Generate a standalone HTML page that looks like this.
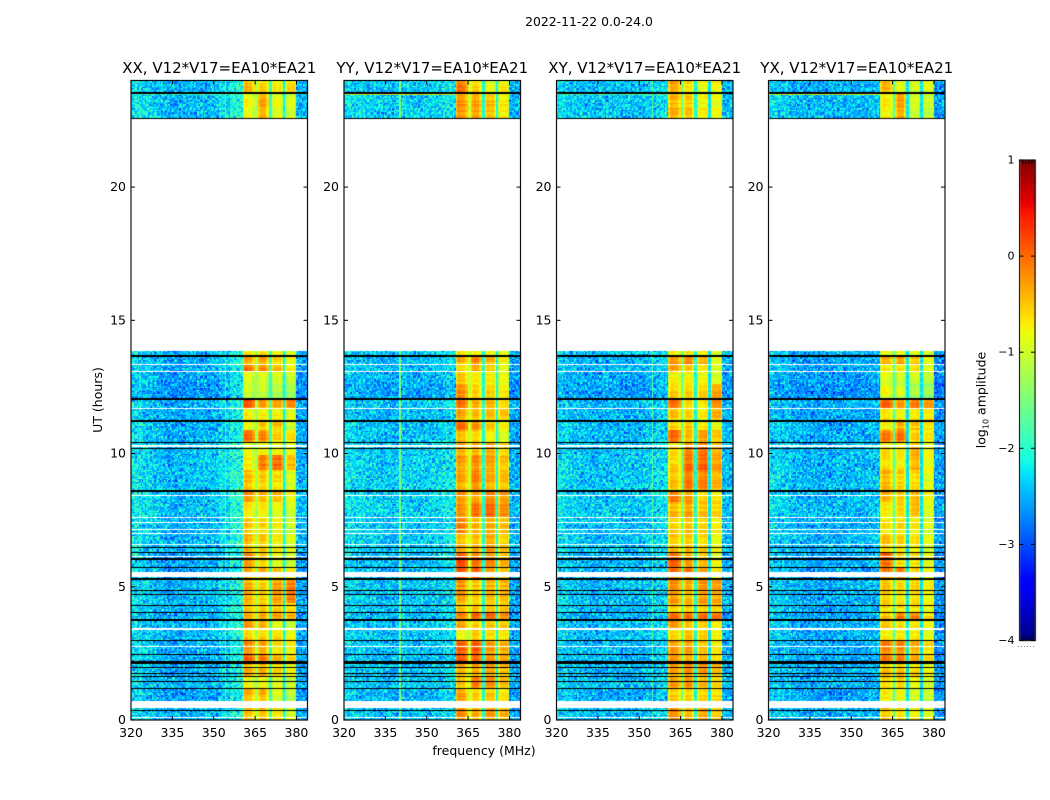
<!DOCTYPE html>
<html lang="en">
<head>
<meta charset="utf-8">
<title>2022-11-22 0.0-24.0 dynamic spectra</title>
<style>
html,body{margin:0;padding:0;background:#fff;}
#figure{position:relative;width:1050px;height:800px;overflow:hidden;background:#fff;font-family:"DejaVu Sans","Liberation Sans",sans-serif;}
canvas{position:absolute;left:0;top:0;}
svg{position:absolute;left:0;top:0;}
text{font-family:"DejaVu Sans","Liberation Sans",sans-serif;fill:#000;}
</style>
</head>
<body>
<div id="figure">
<canvas id="heat" width="1050" height="800"></canvas>
<svg id="axes" width="1050" height="800" viewBox="0 0 1050 800">
  <text x="589" y="26" font-size="12.4" text-anchor="middle">2022-11-22 0.0-24.0</text>
  <text x="484" y="755" font-size="12.5" text-anchor="middle">frequency (MHz)</text>
  <text transform="translate(102,400) rotate(-90)" font-size="12.5" text-anchor="middle">UT (hours)</text>
  <text transform="translate(985.5,400) rotate(-90)" font-size="12.5" text-anchor="middle">log<tspan font-size="8" dy="3">10</tspan><tspan dy="-3"> amplitude</tspan></text>
</svg>
</div>
<script>
/* Axis data */
var xTickValues = [320, 335, 350, 365, 380];
var yTickValues = [0, 5, 10, 15, 20];
var colorTickValues = [1, 0, -1, -2, -3, -4];
var colorTickLabels = ['1', '0', '\u22121', '\u22122', '\u22123', '\u22124'];
var panelTitles = ['XX, V12*V17=EA10*EA21', 'YY, V12*V17=EA10*EA21', 'XY, V12*V17=EA10*EA21', 'YX, V12*V17=EA10*EA21'];
var panelKeys = ['xx', 'yy', 'xy', 'yx'];

/* Lower hour bound of each observing block, top of the plot downward */
var blockEnds = [23.5,22.55,13.66,13.34,13.07,12.6,12.04,11.69,11.22,10.9,10.41,9.95,9.4,8.59,8.2,7.59,7.0,6.3,5.73,5.29,4.38,4.02,3.75,3.42,3.0,2.46,2.16,1.62,1.19,0.72,0];

/* log10 amplitude for the four receiver sub-bands, one row per block */
var xxBands = [[-.45,-.55,-.7,-.6],[-.8,-.35,-.85,-.95],[-.7,-.6,-.75,-.9],[-.35,-.3,-.55,-.8],[-.1,-.2,-.45,-.75],[-.85,-.85,-.9,-1],[-1,-1,-1.15,-1.25],[.05,-.3,-.35,-.2],[-.7,-.7,-.7,-.85],[-.8,-.5,-.45,-1],[-.05,-.15,-.55,-.65],[-.85,-.75,-.75,-.85],[-.7,-.1,0,-.45],[-.45,-.5,-.6,-.9],[-.2,-.35,-.4,-.75],[-.7,-.7,-.85,-1],[-.5,-.55,-.7,-1],[-.45,-.5,-.7,-.9],[-.2,-.5,-.8,-.95],[-.4,-.4,-.55,-.75],[-.35,-.5,-.25,-.1],[-.5,-.5,-.5,-.65],[-.3,-.25,-.2,-.3],[-.3,-.4,-.9,-1.1],[-.55,-.55,-.6,-.8],[-.2,-.3,-.6,-.7],[0,-.1,-.4,-.6],[-.4,-.4,-.6,-.8],[-.75,-.75,-.85,-1],[-.4,-.4,-.9,-1.1],[-.4,-.4,-.6,-.9]];
var yyBands = [[-.1,-.55,-.85,-.7],[-.25,-.3,-.45,-.7],[-.6,-.65,-.7,-.8],[-.4,-.15,-.4,-.75],[-.55,-.25,-.45,-.75],[-.5,-.7,-.7,-.8],[-.2,-.55,-.55,-.7],[.05,-.25,-.3,-.5],[-.35,-.45,-.45,-.5],[-.05,-.25,-.55,-.75],[-.4,-.55,-.7,-.85],[-.35,-.35,-.3,-.55],[-.3,-.2,-.3,-.5],[-.35,-.15,-.35,-.45],[-.2,-.25,-.1,-.2],[-.25,-.05,0,-.2],[-.15,-.4,-.35,-.45],[-.4,-.4,-.3,-.5],[.1,-.1,-.2,-.4],[.15,.1,-.25,-.45],[-.25,-.5,-.4,-.4],[-.5,-.5,-.5,-.5],[-.15,.05,.05,-.2],[-.35,-.55,-.5,-.55],[-.75,-.45,-.55,-.6],[.05,.1,-.25,-.35],[.1,.05,-.2,-.3],[-.35,-.3,-.25,-.4],[-.5,-.1,-.2,-.45],[-.35,-.6,-.55,-.7],[-.2,-.35,-.25,-.4]];
var xyBands = [[-.3,-.6,-.8,-.7],[-.4,-.5,-.75,-.8],[-.75,-.7,-.8,-1],[-.2,-.1,-.35,-.8],[-.3,-.5,-.7,-.95],[-.75,-.75,-.8,-.95],[-.55,-.55,-.55,-.3],[0,-.55,-.65,-.15],[-.5,-.6,-.75,-.4],[-.5,-.45,-.65,-.8],[0,-.45,-.3,-.5],[-.6,-.15,-.05,-.4],[-.55,0,.05,-.25],[-.5,-.1,-.15,-.4],[-.1,-.25,-.6,-.7],[-.4,-.3,-.45,-.55],[-.55,-.45,-.55,-.7],[-.5,-.5,-.6,-.8],[.05,-.3,-.45,-.8],[-.05,-.1,-.35,-.7],[-.2,-.4,-.25,-.3],[-.5,-.5,-.5,-.5],[-.05,-.1,-.05,-.1],[-.2,-.45,-.5,-.7],[-.6,-.45,-.55,-.75],[-.3,-.3,-.5,-.7],[-.15,-.3,-.35,-.55],[-.3,-.2,-.25,-.45],[-.3,-.25,-.45,-.6],[-.5,-.55,-.55,-.6],[-.15,-.4,-.3,-.5]];
var yxBands = [[-.4,-.85,-.95,-.85],[-.7,-.3,-.95,-1],[-.85,-.85,-.9,-1],[-.35,-.3,-.5,-.8],[-.7,-.7,-.65,-.9],[-.85,-.95,-.95,-1.05],[-.8,-.95,-1.2,-1.3],[0,-.3,-.15,-.3],[-.6,-.7,-.65,-.65],[-.75,-.4,-.5,-.7],[-.1,-.05,-.55,-.7],[-.6,-.7,-.4,-.8],[-.6,-.7,-.4,-.8],[-.4,-.55,-.6,-.85],[-.35,-.5,-.4,-.75],[-.7,-.6,-.45,-.9],[-.65,-.6,-.7,-.9],[-.5,-.6,-.7,-.9],[.05,-.55,-.6,-.8],[-.1,-.15,-.6,-.8],[-.5,-.65,-.6,-.75],[-.6,-.65,-.65,-.8],[-.45,-.1,-.1,-.6],[-.5,-.65,-.7,-.8],[-.7,-.7,-.7,-.85],[-.1,-.15,-.35,-.6],[-.1,-.15,-.35,-.6],[-.45,-.45,-.6,-.8],[-.55,-.5,-.75,-.9],[-.7,-.8,-.95,-1],[-.45,-.6,-.7,-.85]];

/* Levels of the three narrow notches between sub-bands */
var xxNotches = [-1.2, -1.9, -2.15];
var yyNotches = [-1.0, -2.1, -2.1];
var xyNotches = [-1.6, -2.1, -2.25];
var yxNotches = [-1.7, -2.25, -2.25];

/* Background spectrum in 4 MHz steps from 320 MHz */
var xxBackground = [-2.3,-2.4,-2.5,-2.6,-2.6,-2.55,-2.5,-2.5,-2.35,-2.15,-2.1,-2.1,-2.1,-2.1,-2.1,-2.6];
var yyBackground = [-2.35,-2.4,-2.45,-2.5,-2.5,-2.45,-2.45,-2.45,-2.4,-2.3,-2.3,-2.3,-2.3,-2.3,-2.3,-2.6];
var xyBackground = [-2.35,-2.45,-2.5,-2.55,-2.5,-2.5,-2.5,-2.5,-2.45,-2.35,-2.3,-2.3,-2.3,-2.3,-2.3,-2.55];
var yxBackground = [-2.4,-2.45,-2.55,-2.6,-2.6,-2.6,-2.55,-2.55,-2.55,-2.5,-2.5,-2.5,-2.5,-2.5,-2.5,-2.7];

/* Per-block shift of the background level */
var backgroundShift = [.05,.1,.05,0,0,-.05,-.12,.05,0,.05,.05,.08,.1,.12,.1,.12,.05,.08,.02,0,.05,.05,0,.05,.05,.02,0,.02,.05,-.02,.05];

/* Constant-frequency interference: MHz and level, per panel */
var xxLineFreq = 354.3;
var xxLineLevel = -1.85;
var yyLineFreq = 340.2;
var yyLineLevel = -1.5;
var xyLineFreq = 354.6;
var xyLineLevel = -1.7;
var yxLineFreq = 354.6;
var yxLineLevel = -2.6;

/* Interference row just under the 23.5 h flag */
var rfiHour = 23.49;
var rfiLevels = [-1.9, -1.0, -1.8, -1.1];

/* Edges of sub-bands and notches, MHz */
var bandEdges = [360.5, 364.8, 365.9, 369.9, 371, 375.1, 375.9, 380];
var bandRolloffWidth = 0.7;
var bandRolloffDrop = 0.3;

/* Flagged data: [hour, duration]. Black = zero amplitude, white = no data */
var blackRows = [[23.53,.06],[22.56,.04],[13.66,.04],[12.04,.07],[11.22,.05],[10.41,.06],[10.19,.06],[8.59,.06],[6.48,.04],[6.3,.04],[6.04,.05],[5.73,.03],[5.29,.06],[4.85,.03],[4.71,.03],[4.3,.04],[4.02,.03],[3.75,.06],[3.0,.04],[2.46,.04],[2.16,.1],[1.98,.03],[1.74,.03],[1.62,.03],[1.44,.03],[1.19,.03],[.34,.04]];
var whiteRows = [[13.34,.04],[13.07,.04],[11.69,.04],[10.28,.05],[8.43,.04],[7.59,.04],[7.42,.03],[7.15,.04],[7.0,.04],[6.57,.04],[6.12,.04],[3.42,.08],[2.77,.04],[.11,.03]];
var whiteSpans = [[13.84,22.55],[5.37,5.55],[.46,.72]];

/* Hand-typed speckle used as cell texture (the original's per-cell noise cannot be read) */
var speckle = [.31,-.42,.08,-.17,.44,-.29,.12,-.48,.26,-.06,.37,-.34,.02,.19,-.39,.41,-.11,.23,-.45,.05,.33,-.22,-.03,.47,-.36,.15,-.27,.38,-.09,.21,-.41,.29,-.14,.06,-.47,.35,-.2,.11,.43,-.31,-.01,.25,-.38,.17,-.12,.4,-.44,.09,.3,-.25,.03,-.35,.46,-.16,.22,-.05,.36,-.43,.13,-.28,.39,-.08,.18,-.4,.27,.01,-.33,.45,-.19,.07,-.46,.32,-.1,.24,-.37,.42,-.23,.14,-.04,.34,-.49,.2,-.15,.28,-.3,.04,.41,-.18,.1,-.36,.16,.48,-.26,-.07,.37,-.41,.23,-.13,.06,-.32,.29];

/* Layout and axis functions */
var panelLefts = [131, 344, 556.5, 768.5];
var panelWidth = 176.5;
var plotTop = 80.5;
var plotBottom = 720;
var freqMin = 320;
var freqMax = 384;
var hourMax = 24;
var colorTop = 160;
var colorBottom = 640.5;
var colorLeft = 1019.5;
var colorRight = 1035;
var valueMin = -4;
var valueMax = 1;

function xScale(panel, freq) {
  return panelLefts[panel] + (freq - freqMin) / (freqMax - freqMin) * panelWidth;
}
function yScale(hour) {
  return plotBottom - hour / hourMax * (plotBottom - plotTop);
}
function colorScaleY(value) {
  return colorBottom - (value - valueMin) / (valueMax - valueMin) * (colorBottom - colorTop);
}
function clamp01(v) { return v < 0 ? 0 : v > 1 ? 1 : v; }
function jet(t) {
  var r = t < .35 ? 0 : t < .66 ? (t - .35) / .31 : t < .89 ? 1 : 1 - (t - .89) / .11 * .5;
  var g = t < .125 ? 0 : t < .375 ? (t - .125) / .25 : t < .64 ? 1 : t < .91 ? 1 - (t - .64) / .27 : 0;
  var b = t < .11 ? .5 + t / .11 * .5 : t < .34 ? 1 : t < .65 ? 1 - (t - .34) / .31 : 0;
  return 'rgb(' + Math.round(r * 255) + ',' + Math.round(g * 255) + ',' + Math.round(b * 255) + ')';
}
var lut = [];
for (var li = 0; li < 256; li++) { lut.push(jet(li / 255)); }
function valueColor(v) {
  return lut[Math.round(clamp01((v - valueMin) / (valueMax - valueMin)) * 255)];
}

var allBands = [xxBands, yyBands, xyBands, yxBands];
var allNotches = [xxNotches, yyNotches, xyNotches, yxNotches];
var allBackground = [xxBackground, yyBackground, xyBackground, yxBackground];
var allLineFreq = [xxLineFreq, yyLineFreq, xyLineFreq, yxLineFreq];
var allLineLevel = [xxLineLevel, yyLineLevel, xyLineLevel, yxLineLevel];

function blockIndex(hour) {
  for (var i = 0; i < blockEnds.length; i++) { if (hour >= blockEnds[i]) return i; }
  return blockEnds.length - 1;
}
function cellLevel(panel, freq, block) {
  if (freq < bandEdges[0] || freq >= bandEdges[7]) {
    var idx = Math.min(15, Math.floor((freq - freqMin) / 4));
    return { v: allBackground[panel][idx] + backgroundShift[block], band: 0 };
  }
  var seg = 0;
  while (seg < 6 && freq >= bandEdges[seg + 1]) seg++;
  if (seg % 2 === 1) return { v: allNotches[panel][(seg - 1) / 2], band: 2 };
  var edgeDist = Math.min(freq - bandEdges[seg], bandEdges[seg + 1] - freq);
  var drop = edgeDist < bandRolloffWidth ? bandRolloffDrop : 0;
  return { v: allBands[panel][block][seg / 2] - drop, band: 1 };
}

var ctx = document.getElementById('heat').getContext('2d');
var freqStep = 0.5;
var hourStep = 0.05;

function drawHeatmap(panel) {
  var nCols = Math.round((freqMax - freqMin) / freqStep);
  var nRows = Math.round(hourMax / hourStep);
  for (var row = 0; row < nRows; row++) {
    var hLow = row * hourStep;
    var y0 = Math.round(yScale(hLow + hourStep));
    var y1 = Math.round(yScale(hLow));
    var block = blockIndex(hLow + hourStep / 2);
    var rowNoise = speckle[(row * 17 + panel * 7) % 101];
    for (var col = 0; col < nCols; col++) {
      var f = freqMin + col * freqStep;
      var cell = cellLevel(panel, f + freqStep / 2, block);
      var n = speckle[(col * 7 + row * row) % 101] + speckle[(row * 13 + col * col * 3 + panel * 29) % 101];
      var v;
      if (cell.band === 1) {
        v = cell.v + rowNoise * 0.28 + speckle[(col * 23) % 101] * 0.12 + n * 0.08;
      } else if (cell.band === 2) {
        v = cell.v + n * 0.2;
      } else {
        v = cell.v + n * 0.72;
        if (allLineFreq[panel] >= f && allLineFreq[panel] < f + freqStep) {
          v = allLineLevel[panel] + n * 0.2;
        }
      }
      var x0 = Math.round(xScale(panel, f));
      var x1 = Math.round(xScale(panel, f + freqStep));
      ctx.fillStyle = valueColor(v);
      ctx.fillRect(x0, y0, Math.max(1, x1 - x0), Math.max(1, y1 - y0));
    }
  }
}

function drawRows(panel, rows, color) {
  var x0 = Math.round(xScale(panel, freqMin));
  var x1 = Math.round(xScale(panel, freqMax));
  ctx.fillStyle = color;
  rows.forEach(function (r) {
    var yTop = Math.round(yScale(r[0] + r[1] / 2));
    var yBot = Math.round(yScale(r[0] - r[1] / 2));
    ctx.fillRect(x0, yTop, x1 - x0, Math.max(1, yBot - yTop));
  });
}

function drawSpans(panel) {
  var x0 = Math.round(xScale(panel, freqMin));
  var x1 = Math.round(xScale(panel, freqMax));
  ctx.fillStyle = '#fff';
  whiteSpans.forEach(function (s) {
    var yTop = Math.round(yScale(s[1]));
    var yBot = Math.round(yScale(s[0]));
    ctx.fillRect(x0, yTop, x1 - x0, yBot - yTop);
  });
}

function drawRfi(panel) {
  var y = Math.round(yScale(rfiHour));
  var nCols = Math.round(60 / freqStep);
  for (var c = 0; c < nCols; c++) {
    var f = freqMin + c * freqStep;
    var v = rfiLevels[panel] + speckle[(c * 11) % 101] * 1.1;
    var x0 = Math.round(xScale(panel, f));
    var x1 = Math.round(xScale(panel, f + freqStep));
    if (f < bandEdges[0]) {
      ctx.fillStyle = valueColor(v);
      ctx.fillRect(x0, y, Math.max(1, x1 - x0), 1);
    }
  }
}

var SVGNS = 'http://www.w3.org/2000/svg';
var svg = document.getElementById('axes');

function addLine(x1, y1, x2, y2, name, width) {
  var l = document.createElementNS(SVGNS, 'line');
  l.setAttribute('x1', x1);
  l.setAttribute('y1', y1);
  l.setAttribute('x2', x2);
  l.setAttribute('y2', y2);
  l.setAttribute('stroke', '#000');
  l.setAttribute('stroke-width', width || 1);
  
  
  svg.appendChild(l);
}
function addText(x, y, str, anchor, size, name) {
  var t = document.createElementNS(SVGNS, 'text');
  t.setAttribute('x', x);
  t.setAttribute('y', y);
  t.setAttribute('text-anchor', anchor);
  t.setAttribute('font-size', size);
  t.textContent = str;
  
  
  svg.appendChild(t);
}

function drawAxes(panel) {
  var key = panelKeys[panel];
  var left = xScale(panel, freqMin);
  var right = xScale(panel, freqMax);
  var frame = document.createElementNS(SVGNS, 'rect');
  frame.setAttribute('x', left);
  frame.setAttribute('y', plotTop);
  frame.setAttribute('width', right - left);
  frame.setAttribute('height', plotBottom - plotTop);
  frame.setAttribute('fill', 'none');
  frame.setAttribute('stroke', '#111');
  frame.setAttribute('stroke-width', '1.2');
  
  
  svg.appendChild(frame);
  addText((left + right) / 2, 73, panelTitles[panel], 'middle', 15.0, 'panel-title-' + key);
  xTickValues.forEach(function (f) {
    var x = xScale(panel, f);
    addLine(x, plotBottom, x, plotBottom - 4, 'x-tick-' + key + '-' + f);
    addLine(x, plotTop, x, plotTop + 4, 'x-tick-top-' + key + '-' + f);
    addText(x, 737, String(f), 'middle', 12.5, 'x-tick-label-' + key + '-' + f);
  });
  yTickValues.forEach(function (h) {
    var y = yScale(h);
    addLine(left, y, left + 4, y, 'y-tick-' + key + '-' + h);
    addLine(right, y, right - 4, y, 'y-tick-right-' + key + '-' + h);
    addText(left - 5, y + 4, String(h), 'end', 12.5, 'y-tick-label-' + key + '-' + h);
  });
}

function drawColorbar() {
  var y0 = Math.round(colorTop);
  var y1 = Math.round(colorBottom);
  for (var y = y0; y < y1; y++) {
    var v = valueMax - (y + 0.5 - colorTop) / (colorBottom - colorTop) * (valueMax - valueMin);
    ctx.fillStyle = valueColor(v);
    ctx.fillRect(Math.round(colorLeft), y, Math.round(colorRight - colorLeft), 1);
  }
  var frame = document.createElementNS(SVGNS, 'rect');
  frame.setAttribute('x', colorLeft);
  frame.setAttribute('y', colorTop);
  frame.setAttribute('width', colorRight - colorLeft);
  frame.setAttribute('height', colorBottom - colorTop);
  frame.setAttribute('fill', 'none');
  frame.setAttribute('stroke', '#222');
  frame.setAttribute('stroke-width', '1.2');
  
  
  svg.appendChild(frame);
  colorTickValues.forEach(function (v, i) {
    var y = colorScaleY(v);
    addLine(colorLeft, y, colorLeft + 4, y, 'colorbar-tick-left-' + i);
    addLine(colorRight, y, colorRight - 4, y, 'colorbar-tick-right-' + i);
    addText(colorLeft - 5, y + 3.5, colorTickLabels[i], 'end', 11, 'colorbar-tick-label-' + i);
  });
  [1023, 1026, 1029, 1032].forEach(function (x, i) {
    addLine(x, colorTop, x, colorTop + 4, 'colorbar-end-tick-top-' + i);
    addLine(x, colorBottom, x, colorBottom - 4, 'colorbar-end-tick-bottom-' + i);
  });
  var dots = document.createElementNS(SVGNS, 'line');
  dots.setAttribute('x1', 1018);
  dots.setAttribute('y1', 646.5);
  dots.setAttribute('x2', 1035);
  dots.setAttribute('y2', 646.5);
  dots.setAttribute('stroke', '#888');
  dots.setAttribute('stroke-width', '1');
  dots.setAttribute('stroke-dasharray', '1 2');
  
  
  svg.appendChild(dots);
}

for (var p = 0; p < 4; p++) {
  drawHeatmap(p);
  drawRfi(p);
  drawSpans(p);
  drawRows(p, whiteRows, '#fff');
  drawRows(p, blackRows, '#000');
  drawAxes(p);
}
drawColorbar();
</script>
</body>
</html>
